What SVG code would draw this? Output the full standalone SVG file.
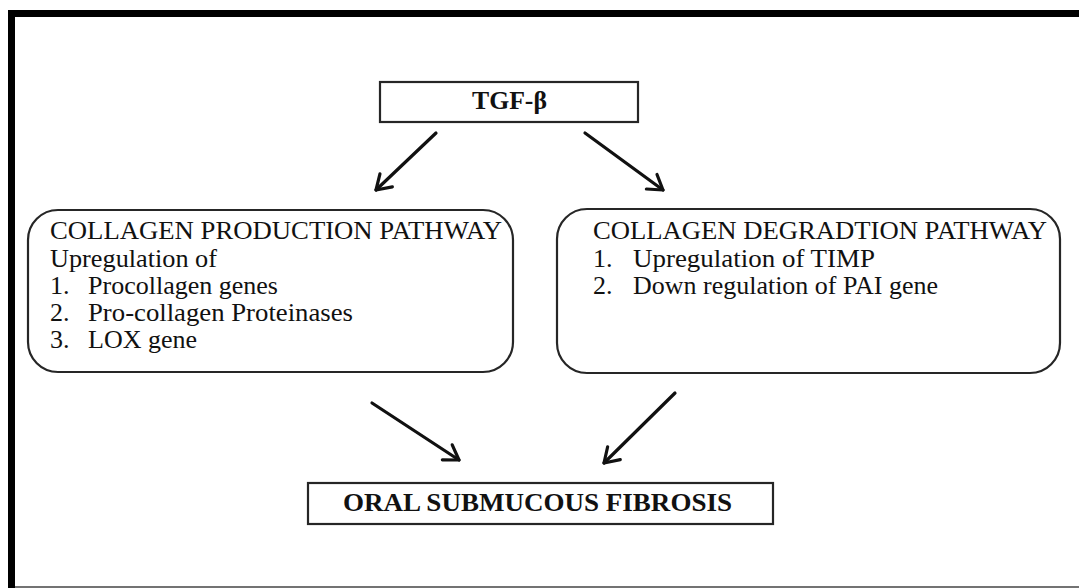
<svg xmlns="http://www.w3.org/2000/svg" width="1079" height="588" viewBox="0 0 1079 588">
<defs>
<style>
.box{fill:#fff;stroke:#262626;stroke-width:2.2}
.t{font-family:"Liberation Serif",serif;font-size:26px;fill:#111}
.b{font-family:"Liberation Serif",serif;font-size:26px;font-weight:bold;fill:#111}
.conn{stroke:#111;stroke-width:3.2;fill:none;stroke-linecap:round}
</style>
<marker id="ah" markerUnits="userSpaceOnUse" markerWidth="24" markerHeight="24" viewBox="0 0 24 24" refX="20" refY="12" orient="auto">
<path d="M6,3 L20,12 L6,21" fill="none" stroke="#111" stroke-width="3.2" stroke-linecap="round" stroke-linejoin="round"/>
</marker>
</defs>
<rect width="1079" height="588" fill="#fff"/>
<g id="frame">
<line x1="8" y1="13.5" x2="1079" y2="13.5" stroke="#000" stroke-width="7"/>
<line x1="11.5" y1="10" x2="11.5" y2="588" stroke="#000" stroke-width="7"/>
<line x1="15" y1="587" x2="1079" y2="587" stroke="#444" stroke-width="1.5"/>
</g>
<g id="tgf">
<rect class="box" x="380" y="82" width="258" height="40"/>
<text class="b" x="472" y="109" textLength="75" lengthAdjust="spacingAndGlyphs">TGF-β</text>
</g>
<g id="production">
<rect class="box" x="28" y="210" width="485" height="162" rx="30" ry="30"/>
<text class="t" x="50" y="239" textLength="452" lengthAdjust="spacingAndGlyphs">COLLAGEN PRODUCTION PATHWAY</text>
<text class="t" x="50" y="267" textLength="167" lengthAdjust="spacingAndGlyphs">Upregulation of</text>
<text class="t" x="50" y="294">1.</text>
<text class="t" x="88" y="294" textLength="190" lengthAdjust="spacingAndGlyphs">Procollagen  genes</text>
<text class="t" x="50" y="321">2.</text>
<text class="t" x="88" y="321" textLength="265" lengthAdjust="spacingAndGlyphs">Pro-collagen  Proteinases</text>
<text class="t" x="50" y="348">3.</text>
<text class="t" x="88" y="348" textLength="109" lengthAdjust="spacingAndGlyphs">LOX gene</text>
</g>
<g id="degradation">
<rect class="box" x="557" y="209" width="503" height="164" rx="30" ry="30"/>
<text class="t" x="593" y="239" textLength="454" lengthAdjust="spacingAndGlyphs">COLLAGEN DEGRADTION PATHWAY</text>
<text class="t" x="593" y="267">1.</text>
<text class="t" x="633" y="267" textLength="242" lengthAdjust="spacingAndGlyphs">Upregulation of TIMP</text>
<text class="t" x="593" y="294">2.</text>
<text class="t" x="633" y="294" textLength="305" lengthAdjust="spacingAndGlyphs">Down regulation  of PAI gene</text>
</g>
<g id="osf">
<rect class="box" x="308" y="483" width="465" height="41"/>
<text class="b" x="343" y="511" textLength="389" lengthAdjust="spacingAndGlyphs">ORAL  SUBMUCOUS FIBROSIS</text>
</g>
<g id="connectors">
<line class="conn" x1="436" y1="133" x2="376" y2="190" marker-end="url(#ah)"/>
<line class="conn" x1="585" y1="133" x2="663" y2="190" marker-end="url(#ah)"/>
<line class="conn" x1="372" y1="403" x2="459" y2="460" marker-end="url(#ah)"/>
<line class="conn" x1="675" y1="393" x2="604" y2="463" marker-end="url(#ah)"/>
</g>
</svg>
